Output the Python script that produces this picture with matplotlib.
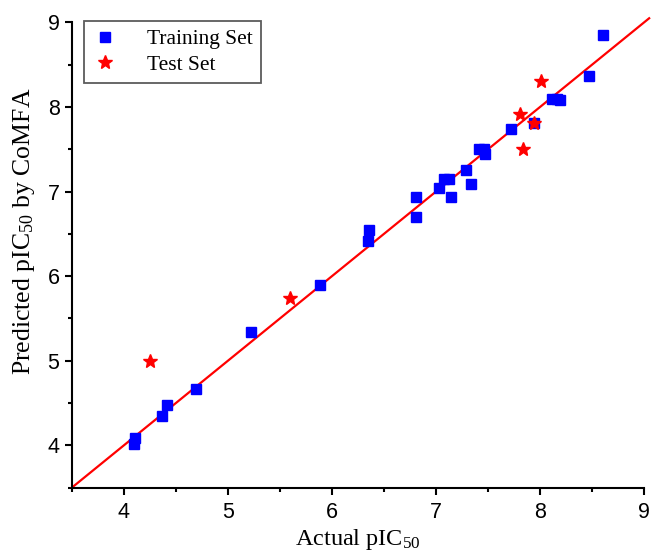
import matplotlib
matplotlib.use("Agg")
import matplotlib.pyplot as plt
from matplotlib.ticker import MultipleLocator

# Training set: actual vs. predicted pIC50
train_actual = [4.10, 4.11, 4.37, 4.41, 4.69, 5.22, 5.88, 6.35, 6.36, 6.81, 6.81,
                7.03, 7.08, 7.13, 7.14, 7.29, 7.34, 7.41, 7.46, 7.47, 7.72, 7.94,
                8.12, 8.16, 8.19, 8.47, 8.61]
train_pred = [4.01, 4.09, 4.35, 4.47, 4.67, 5.34, 5.90, 6.42, 6.55, 6.70, 6.93,
              7.04, 7.15, 7.15, 6.93, 7.25, 7.09, 7.50, 7.50, 7.45, 7.74, 7.81,
              8.10, 8.10, 8.08, 8.37, 8.85]

# Test set
test_actual = [4.25, 5.60, 7.81, 7.84, 7.94, 8.01]
test_pred = [5.00, 5.74, 7.92, 7.50, 7.81, 8.31]

# Reference line y = x
line_ends = [3.5, 9.05]
ticks = [4, 5, 6, 7, 8, 9]

plt.rcParams["mathtext.fontset"] = "custom"
plt.rcParams["mathtext.rm"] = "Liberation Serif"
plt.rcParams["mathtext.it"] = "Liberation Serif:italic"

serif = "Liberation Serif"
sans = "Liberation Sans"

fig = plt.figure(figsize=(6.51, 5.55), dpi=100)
ax = fig.add_axes([0.1106, 0.1216, 0.8786, 0.8379])

ax.plot(line_ends, line_ends, color="#ff0000", lw=1.6, zorder=2, clip_on=False)
ax.plot(train_actual, train_pred, linestyle="none", marker="s", markersize=6.8,
        color="#0000ff", label="Training Set", zorder=3)
ax.plot(test_actual, test_pred, linestyle="none", marker="*", markersize=10.5,
        color="#ff0000", label="Test Set", zorder=4)

ax.set_xlim(3.5, 9)
ax.set_ylim(3.5, 9)
ax.set_xticks(ticks)
ax.set_yticks(ticks)
ax.xaxis.set_minor_locator(MultipleLocator(0.5))
ax.yaxis.set_minor_locator(MultipleLocator(0.5))

for side in ("top", "right"):
    ax.spines[side].set_visible(False)
for side in ("left", "bottom"):
    ax.spines[side].set_linewidth(1.5)
    ax.spines[side].set_color("black")

ax.tick_params(which="major", direction="out", length=5, width=1.5, pad=4)
ax.tick_params(axis="x", which="major", pad=5.5)
ax.tick_params(which="minor", direction="out", length=3, width=1.5)
for lab in ax.get_xticklabels() + ax.get_yticklabels():
    lab.set_fontfamily(sans)
    lab.set_fontsize(15.5)

ax.set_xlabel(r"Actual pIC$_{50}$", fontfamily=serif, fontsize=17.5)
ax.set_ylabel(r"Predicted pIC$_{50}$ by CoMFA", fontfamily=serif, fontsize=18.5)
ax.xaxis.set_label_coords(0.5, -0.085)
ax.yaxis.set_label_coords(-0.062, 0.55)

leg = ax.legend(loc="upper left", bbox_to_anchor=(0.021, 1.003), borderaxespad=0,
                prop={"family": serif, "size": 15.5}, frameon=True, fancybox=False,
                edgecolor="#333333", handlelength=1.2, handletextpad=1.35,
                borderpad=0.38, labelspacing=0.25)
leg.get_frame().set_linewidth(1.3)

fig.savefig("out.png", dpi=100)
